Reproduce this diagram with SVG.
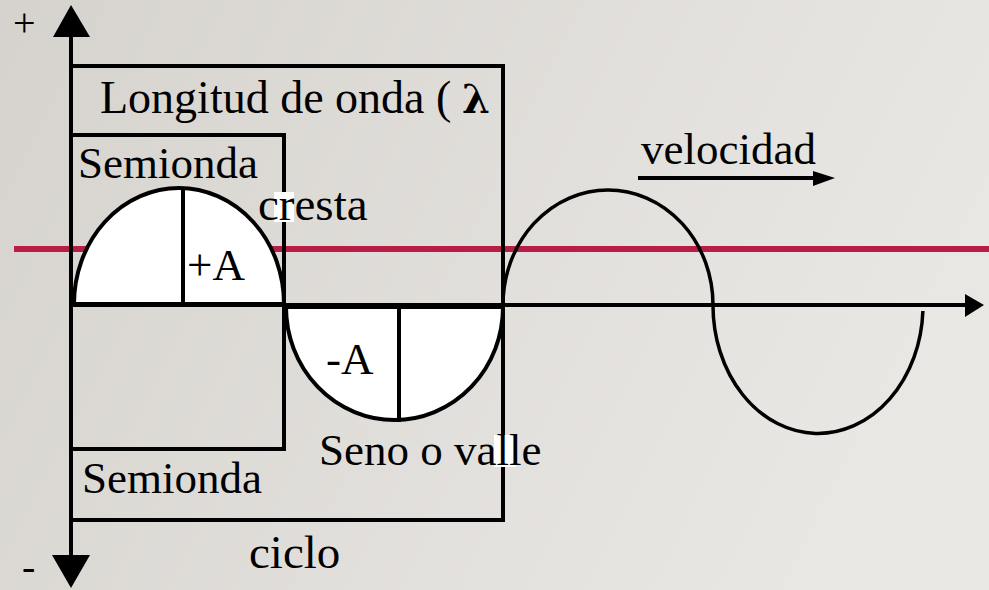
<svg xmlns="http://www.w3.org/2000/svg" width="989" height="590" viewBox="0 0 989 590">
<defs>
<linearGradient id="bg" x1="0" y1="0" x2="1" y2="0.3">
<stop offset="0" stop-color="#d6d3ce"/>
<stop offset="1" stop-color="#e9e7e4"/>
</linearGradient>
</defs>
<style>
.t{font-family:"Liberation Serif","Times New Roman",serif;font-size:45px;fill:#000}
.ln{stroke:#000;stroke-width:4;fill:none}
.sh{stroke:#000;stroke-width:4;fill:#fff}
</style>
<rect width="989" height="590" fill="url(#bg)"/>
<line x1="14" y1="249" x2="989" y2="249" stroke="#b81d45" stroke-width="6"/>
<g id="axes">
<line class="ln" x1="71" y1="35" x2="71" y2="557"/>
<polygon points="71,5 53,37 90,37" fill="#000"/>
<polygon points="71,588 52,555 90,555" fill="#000"/>
<line class="ln" x1="71" y1="305" x2="966" y2="305"/>
<polygon points="984,305 965,294 965,317" fill="#000"/>
</g>
<g id="boxes">
<polyline class="ln" points="71,66 503,66 503,520 71,520"/>
<polyline class="ln" points="71,135 284,135 284,449 71,449"/>
</g>
<g id="crest">
<path class="sh" d="M74,304 A105,116 0 0 1 284,304 Z"/>
<line class="ln" x1="183" y1="188" x2="183" y2="307"/>
</g>
<g id="trough">
<path class="sh" d="M286,307 A108.5,113 0 0 0 503,307 Z"/>
<line class="ln" x1="399" y1="307" x2="399" y2="422"/>
</g>
<g id="wave">
<path class="ln" style="stroke-width:3.5" d="M503,305 A105,115 0 0 1 713,305 A105,128 0 0 0 922.9,311"/>
</g>
<g id="velocity">
<line class="ln" x1="638" y1="178" x2="815" y2="178"/>
<polygon points="835,178 813,171 813,186" fill="#000"/>
</g>
<g id="labels">
<text class="t" x="13" y="36" style="font-size:40px">+</text>
<text class="t" x="22" y="580" style="font-size:40px">-</text>
<text class="t" x="100" y="113" style="font-size:46px">Longitud de onda (</text>
<text class="t" x="462" y="113" style="font-family:'DejaVu Serif','Liberation Serif',serif;font-weight:bold;font-size:40px">λ</text>
<text class="t" x="78" y="178">Semionda</text>
<rect x="274" y="192" width="20" height="30" fill="#fff"/>
<text class="t" x="258" y="220" style="font-size:47px">cresta</text>
<text class="t" x="187" y="280">+A</text>
<text class="t" x="326" y="374">-A</text>
<rect x="494" y="435" width="22" height="32" fill="#fff"/>
<text class="t" x="319" y="465">Seno o valle</text>
<text class="t" x="82" y="493">Semionda</text>
<text class="t" x="249" y="568" style="font-size:47px">ciclo</text>
<text class="t" x="641" y="164">velocidad</text>
</g>
</svg>
